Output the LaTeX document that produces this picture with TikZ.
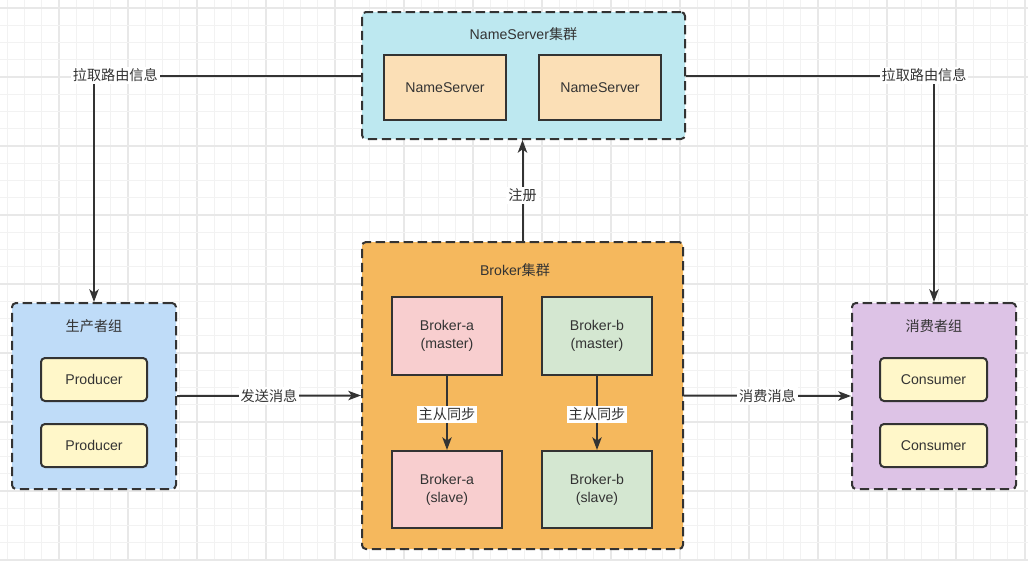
\documentclass[tikz,border=0pt]{standalone}
\usepackage{fontspec}
\setmainfont{Liberation Sans}
\newfontfamily\cjk{Noto Sans CJK SC}
\usetikzlibrary{arrows.meta}
\definecolor{dk}{HTML}{333333}
\definecolor{txt}{HTML}{333333}
\definecolor{nsfill}{HTML}{BDE8F0}
\definecolor{nsbox}{HTML}{FBDFB6}
\definecolor{pgfill}{HTML}{BFDCF8}
\definecolor{prodfill}{HTML}{FFF7C9}
\definecolor{bcfill}{HTML}{F5B85D}
\definecolor{pinkfill}{HTML}{F8CECF}
\definecolor{greenfill}{HTML}{D4E7D1}
\definecolor{cgfill}{HTML}{DDC3E6}
\definecolor{gridminor}{HTML}{F2F2F2}
\definecolor{gridmajor}{HTML}{E8E8E8}
\begin{document}
\begin{tikzpicture}[x=0.75pt,y=-0.75pt,
  every node/.style={font=\fontsize{10.6pt}{13.5pt}\selectfont, text=txt},
  group/.style={draw=dk, line width=1.5pt, dash pattern=on 7pt off 3.5pt, rounded corners=3pt, inner sep=0pt},
  box/.style={draw=dk, line width=1.5pt, align=center, inner sep=0pt},
  rbox/.style={box, rounded corners=3pt},
  arr/.style={draw=dk, line width=1.5pt, -{Stealth[length=9.5pt,width=7pt,inset=2.5pt]}},
  lbl/.style={fill=white, inner sep=1.5pt},
  title/.style={inner sep=0pt}
]
\useasboundingbox (0,0) rectangle (1028,561);
\fill[white] (0,0) rectangle (1028,561);
% grid
\foreach \i in {0,...,59}{
  \pgfmathsetmacro\gx{7.25+17.25*\i}
  \pgfmathtruncatemacro\m{mod(\i,4)}
  \ifnum\m=3
    \draw[gridmajor, line width=0.8pt] (\gx,0) -- (\gx,561);
  \else
    \draw[gridminor, line width=0.8pt] (\gx,0) -- (\gx,561);
  \fi
}
\foreach \j in {0,...,32}{
  \pgfmathsetmacro\gy{8+17.25*\j}
  \pgfmathtruncatemacro\m{mod(\j,4)}
  \ifnum\m=0
    \draw[gridmajor, line width=0.8pt] (0,\gy) -- (1028,\gy);
  \else
    \draw[gridminor, line width=0.8pt] (0,\gy) -- (1028,\gy);
  \fi
}
% NameServer cluster
\node[group, fill=nsfill, minimum width=242.25pt, minimum height=95.25pt] (nsc) at (523.5,75.5) {};
\node[title] (nsct) at (523.5,34) {NameServer{\cjk 集群}};
\node[box, fill=nsbox, minimum width=91.5pt, minimum height=48.75pt] (ns1) at (445,87.5) {NameServer};
\node[box, fill=nsbox, minimum width=91.5pt, minimum height=48.75pt] (ns2) at (600,87.5) {NameServer};
% Producer group
\node[group, fill=pgfill, minimum width=123pt, minimum height=139.5pt] (pg) at (94,396) {};
\node[title] (pgt) at (94,326) {\cjk 生产者组};
\node[rbox, fill=prodfill, minimum width=79.5pt, minimum height=32.25pt] (p1) at (94,379.5) {Producer};
\node[rbox, fill=prodfill, minimum width=79.5pt, minimum height=32.25pt] (p2) at (94,445.5) {Producer};
% Broker cluster
\node[group, fill=bcfill, minimum width=240.75pt, minimum height=230.25pt] (bc) at (522.5,395.5) {};
\node[title] (bct) at (515,270) {Broker{\cjk 集群}};
\node[box, fill=pinkfill, minimum width=82.5pt, minimum height=58.5pt] (bam) at (447,336) {Broker-a\\(master)};
\node[box, fill=greenfill, minimum width=82.5pt, minimum height=58.5pt] (bbm) at (597,336) {Broker-b\\(master)};
\node[box, fill=pinkfill, minimum width=82.5pt, minimum height=57.75pt] (bas) at (447,489.5) {Broker-a\\(slave)};
\node[box, fill=greenfill, minimum width=82.5pt, minimum height=57.75pt] (bbs) at (597,489.5) {Broker-b\\(slave)};
% Consumer group
\node[group, fill=cgfill, minimum width=123pt, minimum height=139.5pt] (cg) at (934,396) {};
\node[title] (cgt) at (934,326) {\cjk 消费者组};
\node[rbox, fill=prodfill, minimum width=80.25pt, minimum height=32.25pt] (c1) at (933.5,379.5) {Consumer};
\node[rbox, fill=prodfill, minimum width=80.25pt, minimum height=32.25pt] (c2) at (933.5,445.5) {Consumer};
% connectors
\draw[arr] (nsc.west) -| node[lbl, pos=0.46] {\cjk 拉取路由信息} (pg.north);
\draw[arr] (nsc.east) -| node[lbl, pos=0.48] {\cjk 拉取路由信息} (cg.north);
\draw[arr] (bc.north) -- node[lbl, pos=0.45] {\cjk 注册} (bc.north |- nsc.south);
\draw[arr] (pg.east) -- node[lbl] {\cjk 发送消息} (bc.west);
\draw[arr] (bc.east) -- node[lbl] {\cjk 消费消息} (cg.west);
\draw[arr] (bam) -- node[lbl, pos=0.52] {\cjk 主从同步} (bas);
\draw[arr] (bbm) -- node[lbl, pos=0.52] {\cjk 主从同步} (bbs);
\end{tikzpicture}
\end{document}
